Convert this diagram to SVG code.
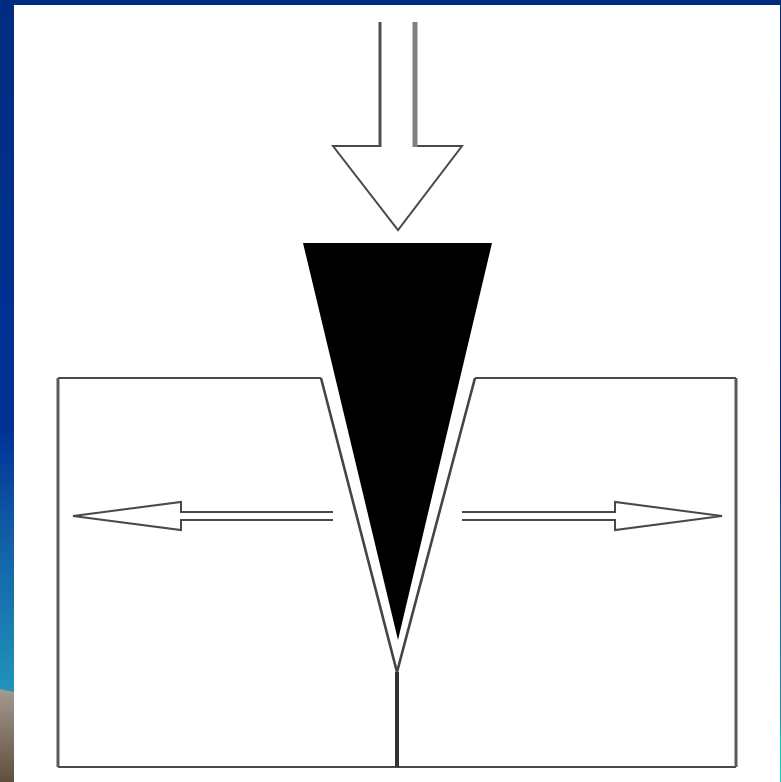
<svg xmlns="http://www.w3.org/2000/svg" width="781" height="782" viewBox="0 0 781 782">
  <style>
    .ln { fill: none; stroke: #4a4a4a; stroke-width: 2; stroke-linejoin: miter; }
    .slot { fill: none; stroke: #444; stroke-width: 2.6; stroke-linejoin: miter; }
    .thick { fill: none; stroke: #5a5a5a; stroke-width: 3; }
    .stem { fill: none; stroke: #333; stroke-width: 4; }
    .pale { fill: none; stroke: #808080; stroke-width: 5; }
    .dark { fill: none; stroke: #505050; stroke-width: 3; }
  </style>
  <defs>
    <linearGradient id="sky" x1="0" y1="0" x2="0" y2="1">
      <stop offset="0" stop-color="#002c80"/>
      <stop offset="0.62" stop-color="#003296"/>
      <stop offset="0.78" stop-color="#125fa6"/>
      <stop offset="1" stop-color="#2094bc"/>
    </linearGradient>
    <linearGradient id="rim" x1="0" y1="0" x2="0" y2="1">
      <stop offset="0" stop-color="#002c80"/>
      <stop offset="0.58" stop-color="#003090"/>
      <stop offset="0.92" stop-color="#2094b0"/>
      <stop offset="0.94" stop-color="#10c4c0"/>
      <stop offset="1" stop-color="#10c8c4"/>
    </linearGradient>
    <linearGradient id="ground" x1="0" y1="0" x2="0" y2="1">
      <stop offset="0" stop-color="#a39a90"/>
      <stop offset="1" stop-color="#5f4f3d"/>
    </linearGradient>
    <filter id="soft" filterUnits="userSpaceOnUse" x="0" y="0" width="781" height="782">
      <feGaussianBlur stdDeviation="0.7"/>
    </filter>
  </defs>
  <rect id="page" width="781" height="782" fill="#fff"/>
  <g id="frame">
    <rect x="0" y="0" width="14" height="692" fill="url(#sky)"/>
    <rect x="0" y="0" width="781" height="5" fill="#002c80"/>
    <rect x="780" y="0" width="1" height="782" fill="url(#rim)"/>
    <polygon points="0,689 14,692 14,782 0,782" fill="url(#ground)"/>
  </g>
  <g id="drawing" filter="url(#soft)">
    <g id="block">
      <path class="ln" d="M321,378 H58 M475,378 H736 M58,767 H736"/>
      <path class="thick" d="M58,378 V767 M736,378 V767"/>
      <path class="slot" d="M321,378 L397,672 L475,378"/>
      <path class="stem" d="M397,672 V767"/>
    </g>
    <polygon id="wedge" points="303,243 492,243 398,640" fill="#000"/>
    <g id="connectors">
      <g id="arrow-down">
        <path class="ln" d="M380,146 H333 L398,230 L462,146 H415"/>
        <path class="dark" d="M380,22 V147"/>
        <path class="pale" d="M415,22 V147"/>
      </g>
      <path id="arrow-left" class="ln" d="M333,512 H181 V502 L73,516 L181,530 V520 H333"/>
      <path id="arrow-right" class="ln" d="M462,512 H615 V502 L722,516 L615,530 V520 H462"/>
    </g>
  </g>
</svg>
